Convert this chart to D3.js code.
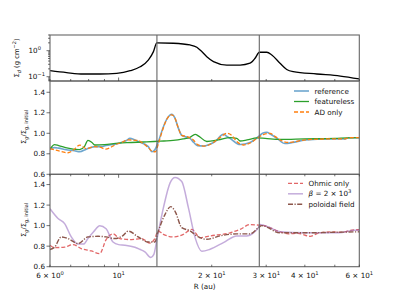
<!DOCTYPE html>
<html>
<head>
<meta charset="utf-8">
<script src="https://cdn.jsdelivr.net/npm/d3@7"></script>
<style>
  body { margin: 0; background: #fff; }
  svg { font-family: "DejaVu Sans", sans-serif; }
</style>
</head>
<body>
<svg id="chart" width="399" height="299"></svg>
<script>
// gap edges (au)
const gaps = [13.3, 28.5];

// top panel: dust surface density
const sigmaDust = [[6.0,0.17],[6.79,0.143],[7.69,0.127],[8.71,0.127],[9.86,0.135],[10.9,0.17],[11.74,0.24],[12.49,0.44],[12.96,0.92],[13.29,2.0],[15.03,1.93],[17.02,1.66],[17.9,1.35],[18.35,1.06],[19.28,0.59],[20.26,0.38],[22.37,0.28],[24.7,0.28],[26.61,0.33],[27.62,0.51],[28.52,0.87],[30.14,0.87],[31.28,0.68],[33.25,0.33],[34.95,0.19],[36.71,0.156],[43.76,0.127],[52.08,0.106],[60,0.082]];

// middle panel
const reference = [[6.0,0.85],[6.21,0.86],[6.4,0.855],[6.77,0.84],[7.2,0.83],[7.48,0.82],[7.86,0.845],[8.37,0.87],[8.8,0.87],[9.09,0.88],[9.96,0.9],[10.6,0.93],[10.88,0.95],[11.2,0.94],[11.57,0.92],[12.47,0.87],[12.81,0.82],[13.1,0.84],[13.45,0.92],[13.9,1.05],[14.4,1.15],[14.85,1.185],[15.2,1.15],[15.6,1.05],[16.0,0.98],[17.02,0.95],[17.5,0.91],[18.0,0.88],[18.8,0.876],[19.6,0.89],[20.51,0.92],[21.82,0.99],[22.4,0.97],[22.93,0.95],[24.7,0.89],[26.61,0.91],[28.31,0.967],[29.2,1.0],[30.14,1.01],[31.0,0.99],[32.5,0.95],[34.51,0.9],[36.5,0.91],[40.1,0.935],[48.0,0.945],[54.05,0.945],[55.27,0.957],[60,0.957]];
const featureless = [[6.0,0.845],[6.21,0.89],[6.4,0.88],[6.86,0.855],[7.48,0.84],[7.75,0.87],[7.96,0.93],[8.2,0.91],[8.37,0.886],[9.0,0.89],[10.0,0.905],[11.0,0.91],[12.0,0.915],[13.0,0.92],[14.0,0.925],[15.0,0.93],[16.16,0.945],[17.0,0.96],[17.67,0.99],[18.2,0.97],[19.28,0.92],[21.0,0.935],[22.93,0.957],[24.1,0.95],[24.7,0.925],[26.0,0.935],[28.0,0.955],[29.76,0.95],[33.25,0.94],[40,0.945],[50,0.95],[55,0.955],[60,0.957]];
const adOnly = [[6.0,0.85],[6.37,0.83],[6.86,0.81],[7.1,0.83],[7.5,0.885],[7.86,0.85],[8.37,0.87],[8.7,0.865],[9.09,0.845],[9.4,0.86],[9.71,0.885],[10.2,0.91],[10.74,0.935],[11.57,0.93],[12.0,0.9],[12.47,0.86],[12.93,0.82],[13.15,0.82],[13.45,0.9],[13.9,1.04],[14.4,1.15],[14.85,1.18],[15.2,1.15],[15.6,1.05],[16.0,0.98],[16.5,0.97],[17.45,0.935],[18.0,0.89],[18.8,0.875],[20.0,0.9],[21.3,0.96],[22.37,1.0],[23.2,0.98],[24.1,0.92],[25.32,0.886],[26.61,0.905],[28.31,0.96],[29.5,0.99],[30.89,1.0],[32.0,0.97],[33.5,0.93],[35.37,0.91],[40.1,0.935],[48.0,0.945],[54.05,0.945],[55.27,0.957],[60,0.957]];

// bottom panel
const ohmicOnly = [[6.0,0.81],[6.21,0.786],[6.69,0.79],[7.12,0.815],[7.57,0.777],[8.16,0.753],[8.69,0.728],[9.11,0.864],[9.59,0.92],[10.09,0.874],[11.01,0.864],[11.86,0.874],[12.62,0.83],[13.09,0.874],[13.42,0.947],[13.96,0.915],[15.03,0.89],[16.19,0.915],[17.24,0.964],[18.35,0.883],[19.76,0.9],[22.93,0.93],[24.7,0.964],[26.61,1.01],[28.31,1.005],[29.5,1.0],[33.25,0.94],[35.37,0.92],[38.0,0.925],[41.63,0.896],[44.0,0.925],[48.95,0.94],[52.0,0.935],[58.25,0.96],[60,0.96]];
const betaLow = [[6.0,1.165],[6.37,1.07],[6.69,1.02],[7.03,0.89],[7.39,0.82],[7.7,0.82],[7.96,0.875],[8.3,0.94],[8.69,1.0],[9.11,0.97],[9.59,0.84],[10.0,0.815],[10.47,0.81],[11.29,0.79],[11.7,0.77],[12.16,0.745],[12.71,0.69],[13.0,0.72],[13.29,0.86],[13.96,1.175],[14.67,1.417],[15.22,1.47],[16.0,1.43],[16.81,1.175],[17.67,0.883],[18.58,0.75],[19.76,0.77],[21.82,0.835],[24.1,0.9],[25.97,0.9],[27.28,0.93],[28.31,0.98],[28.67,1.01],[30.5,0.987],[33.25,0.94],[40.1,0.93],[51.42,0.93],[58.25,0.955],[60,0.955]];
const poloidal = [[6.0,0.767],[6.21,0.79],[6.52,0.89],[6.86,0.874],[7.39,0.825],[7.96,0.89],[8.58,0.896],[9.11,0.89],[9.71,0.874],[10.3,0.9],[10.74,0.947],[11.57,0.89],[12.47,0.84],[13.09,0.84],[13.42,0.94],[14.13,1.11],[14.74,1.185],[15.22,1.14],[16.0,0.98],[17.02,0.95],[17.9,0.9],[19.28,0.867],[21.29,0.9],[24.1,0.92],[26.61,0.92],[28.31,0.98],[29.03,1.0],[33.25,0.93],[40,0.93],[50,0.935],[60,0.94]];

const xTicks = [6, 7, 8, 9, 10, 20, 30, 40, 50, 60];
const xTickLabels = [[6, "6 × 10", "0"], [10, "10", "1"], [20, "2 × 10", "1"], [30, "3 × 10", "1"], [40, "4 × 10", "1"], [60, "6 × 10", "1"]];
const ratioTicks = [0.6, 0.8, 1.0, 1.2, 1.4];

const svg = d3.select('#chart');
const left = 50, right = 359.3;
const frameColor = '#666';

const x = d3.scaleLog().domain([6, 60]).range([left, right]);

const panels = [
  { top: 35, bottom: 81 },
  { top: 81, bottom: 174.3 },
  { top: 174.3, bottom: 266.7 }
];
const yTop = d3.scaleLog().domain([0.0684, 4.0]).range([panels[0].bottom, panels[0].top]);
const yMid = d3.scaleLinear().domain([0.6, 1.51]).range([panels[1].bottom, panels[1].top]);
const yBot = d3.scaleLinear().domain([0.6, 1.5]).range([panels[2].bottom, panels[2].top]);

const defs = svg.append('defs');
panels.forEach((p, i) => {
  defs.append('clipPath').attr('id', `clip${i}`)
    .append('rect').attr('x', left).attr('y', p.top).attr('width', right - left).attr('height', p.bottom - p.top);
});

function drawLine(data, yScale, clipId, color, opts = {}) {
  const line = d3.line().x(d => x(d[0])).y(d => yScale(d[1])).curve(d3.curveMonotoneX);
  svg.append('path')
    .attr('clip-path', `url(#${clipId})`)
    .attr('d', line(data))
    .attr('fill', 'none')
    .attr('stroke', color)
    .attr('stroke-width', opts.width || 1.3)
    .attr('stroke-opacity', opts.opacity || 1)
    .attr('stroke-dasharray', opts.dash || null);
}

// series
drawLine(sigmaDust, yTop, 'clip0', '#000', { width: 1.3 });

drawLine(reference, yMid, 'clip1', '#1f77b4', { opacity: 0.65, width: 1.6 });
drawLine(featureless, yMid, 'clip1', '#2ca02c', { width: 1.3 });
drawLine(adOnly, yMid, 'clip1', '#ff7f0e', { dash: '4,2', width: 1.3 });

drawLine(ohmicOnly, yBot, 'clip2', '#d62728', { dash: '4,2', opacity: 0.7 });
drawLine(betaLow, yBot, 'clip2', '#9467bd', { opacity: 0.55, width: 1.5 });
drawLine(poloidal, yBot, 'clip2', '#8c564b', { dash: '5,1.5,1.2,1.5', width: 1.4 });

// gap edges
gaps.forEach(g => {
  svg.append('line')
    .attr('x1', x(g)).attr('x2', x(g))
    .attr('y1', panels[0].top).attr('y2', panels[2].bottom)
    .attr('stroke', frameColor).attr('stroke-width', 1.1);
});

// frames
panels.forEach(p => {
  svg.append('rect')
    .attr('x', left).attr('y', p.top).attr('width', right - left).attr('height', p.bottom - p.top)
    .attr('fill', 'none').attr('stroke', frameColor).attr('stroke-width', 1.1);
});

// x ticks on each panel boundary
const tickDir = [-1, 1, -1];
panels.forEach((p, i) => {
  xTicks.forEach(t => {
    const len = t === 10 ? 3.5 : 2;
    svg.append('line')
      .attr('x1', x(t)).attr('x2', x(t))
      .attr('y1', p.bottom).attr('y2', p.bottom + tickDir[i] * len)
      .attr('stroke', '#333').attr('stroke-width', 0.7);
  });
});

// x tick labels
xTickLabels.forEach(([v, base, sup]) => {
  const t = svg.append('text')
    .attr('x', x(v)).attr('y', 278)
    .attr('text-anchor', 'middle')
    .attr('font-size', 7.2).attr('fill', '#111');
  t.append('tspan').text(base);
  t.append('tspan').attr('dy', -3).attr('font-size', 5.2).text(sup);
});
svg.append('text')
  .attr('x', (left + right) / 2).attr('y', 289)
  .attr('text-anchor', 'middle').attr('font-size', 7.2).attr('fill', '#111')
  .text('R (au)');

// top panel y ticks (log)
const topMinor = [];
[0.01, 0.1, 1].forEach(dec => {
  for (let k = 1; k <= 9; k++) {
    const v = dec * k;
    if (v >= 0.0684 && v <= 4.0) topMinor.push(v);
  }
});
topMinor.forEach(v => {
  const major = Math.abs(Math.log10(v) - Math.round(Math.log10(v))) < 1e-6;
  svg.append('line')
    .attr('x1', left).attr('x2', left - (major ? 3.5 : 2))
    .attr('y1', yTop(v)).attr('y2', yTop(v))
    .attr('stroke', '#333').attr('stroke-width', 0.7);
});
[[1, '0'], [0.1, '−1']].forEach(([v, sup]) => {
  const t = svg.append('text')
    .attr('x', left - 5).attr('y', yTop(v) + 2.6)
    .attr('text-anchor', 'end').attr('font-size', 7.2).attr('fill', '#111');
  t.append('tspan').text('10');
  t.append('tspan').attr('dy', -3).attr('font-size', 5.2).text(sup);
  if (sup === '0') t.attr('x', left - 9);
});

// ratio panels y ticks
[[yMid, 1], [yBot, 2]].forEach(([ys, i]) => {
  ratioTicks.forEach(v => {
    svg.append('line')
      .attr('x1', left).attr('x2', left - 3.5)
      .attr('y1', ys(v)).attr('y2', ys(v))
      .attr('stroke', '#333').attr('stroke-width', 0.7);
    svg.append('text')
      .attr('x', left - 5).attr('y', ys(v) + 2.6)
      .attr('text-anchor', 'end').attr('font-size', 7.2).attr('fill', '#111')
      .text(v.toFixed(1));
  });
});

// y labels
function yLabel(cx, cy, build) {
  const t = svg.append('text')
    .attr('transform', `translate(${cx},${cy}) rotate(-90)`)
    .attr('text-anchor', 'middle').attr('fill', '#111');
  build(t);
}
yLabel(19, 58, t => {
  t.attr('font-size', 6.8);
  t.append('tspan').text('Σ');
  t.append('tspan').attr('dy', 1.5).attr('font-size', 5).attr('font-style', 'italic').text('d');
  t.append('tspan').attr('dy', -1.5).text(' (g cm');
  t.append('tspan').attr('dy', -2.8).attr('font-size', 5).text('−2');
  t.append('tspan').attr('dy', 2.8).text(')');
});
function ratioLabel(t) {
  t.attr('font-size', 6.8);
  t.append('tspan').text('Σ');
  t.append('tspan').attr('dy', 1.5).attr('font-size', 5).attr('font-style', 'italic').text('g');
  t.append('tspan').attr('dy', -1.5).text('/Σ');
  t.append('tspan').attr('dy', 1.5).attr('font-size', 5).text('g, initial');
}
yLabel(26, 127, ratioLabel);
yLabel(26, 220, ratioLabel);

// legends
function legend(items, lx, ly) {
  items.forEach((it, i) => {
    const yy = ly + i * 10.5;
    svg.append('line')
      .attr('x1', lx).attr('x2', lx + 15)
      .attr('y1', yy).attr('y2', yy)
      .attr('stroke', it.color).attr('stroke-width', it.width || 1.3)
      .attr('stroke-opacity', it.opacity || 1)
      .attr('stroke-dasharray', it.dash || null);
    const t = svg.append('text')
      .attr('x', lx + 20.5).attr('y', yy + 2.5)
      .attr('font-size', 7.2).attr('fill', '#111');
    if (it.label === 'beta') {
      t.append('tspan').attr('font-style', 'italic').text('β');
      t.append('tspan').text(' = 2 × 10');
      t.append('tspan').attr('dy', -3).attr('font-size', 5.2).text('3');
    } else {
      t.text(it.label);
    }
  });
}
legend([
  { label: 'reference', color: '#1f77b4', opacity: 0.65, width: 1.6 },
  { label: 'featureless', color: '#2ca02c' },
  { label: 'AD only', color: '#ff7f0e', dash: '4,2' }
], 294, 91);
legend([
  { label: 'Ohmic only', color: '#d62728', dash: '4,2', opacity: 0.7 },
  { label: 'beta', color: '#9467bd', opacity: 0.55, width: 1.5 },
  { label: 'poloidal field', color: '#8c564b', dash: '5,1.5,1.2,1.5', width: 1.4 }
], 288, 183.3);
</script>
</body>
</html>
